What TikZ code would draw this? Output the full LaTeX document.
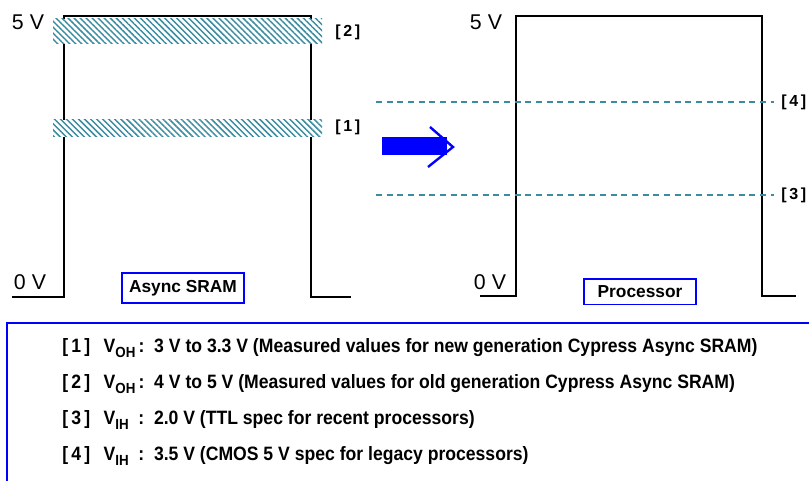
\documentclass[tikz,border=0pt]{standalone}
\usepackage{fontspec}
\setmainfont{Liberation Sans}
\newfontfamily\narrowfont[FakeStretch=0.91]{Liberation Sans}
\usetikzlibrary{patterns.meta}
\definecolor{hatchTeal}{HTML}{3A8CA0}
\definecolor{dashTeal}{HTML}{3B8C9E}
\definecolor{boxBlue}{HTML}{0000FF}
\newcommand\voltsub[1]{V\raisebox{-0.5ex}{\fontsize{11}{12}\selectfont #1}}

\begin{document}
\begin{tikzpicture}[x=0.75pt, y=-0.75pt,
    wave/.style={line width=1.6pt, line join=miter},
    band/.style={fill=white, postaction={pattern={Lines[angle=-45,distance=3.2pt,line width=1.1pt]}, pattern color=hatchTeal}},
    level/.style={dashTeal, line width=1.4pt, dash pattern=on 4.5pt off 3.5pt},
    volt/.style={font=\fontsize{16}{18}\selectfont, inner sep=0},
    tag/.style={font=\bfseries\fontsize{12}{14}\selectfont, inner sep=0, anchor=west},
    namebox/.style={draw=boxBlue, line width=1pt, font=\bfseries\fontsize{13}{15}\selectfont, inner sep=0},
    legend/.style={font=\narrowfont\bfseries\fontsize{14.5}{17}\selectfont, anchor=west, inner sep=0}]
  \useasboundingbox (0,0) rectangle (809,481);

  % Async SRAM output levels
  \draw[wave] (12,297) -- (64,297) -- (64,16) -- (311,16) -- (311,297) -- (351,297);
  \fill[band] (53,19) rectangle (322,44);
  \fill[band] (53,120) rectangle (322,137);
  \node[volt] (sramHigh) at (28,22) {5 V};
  \node[volt] (sramLow) at (30,282) {0 V};
  \node[tag] (tagTwo) at (335,32) {[\,2\,]};
  \node[tag] (tagOne) at (335,127) {[\,1\,]};
  \node[namebox, minimum width=91.5pt, minimum height=22.5pt] (sram) at (183,288) {Async SRAM};

  % arrow
  \fill[boxBlue] (382,137) rectangle (447,155);
  \draw[boxBlue, line width=1.8pt] (430,127) -- (453,147) -- (428,167);

  % Processor input levels
  \draw[wave] (480,296) -- (516,296) -- (516,16) -- (762,16) -- (762,296) -- (796,296);
  \draw[level] (376,102) -- (774,102);
  \draw[level] (376,195) -- (774,195);
  \node[volt] (procHigh) at (486,22) {5 V};
  \node[volt] (procLow) at (490,282) {0 V};
  \node[tag] (tagFour) at (781,102) {[\,4\,]};
  \node[tag] (tagThree) at (781,195) {[\,3\,]};
  \node[namebox, minimum width=84pt, minimum height=19pt] (proc) at (640,291.5) {Processor};

  % legend
  \draw[boxBlue, line width=1pt] (7,481) -- (7,323) -- (809,323);
  \node[legend] (noteOne) at (62,348) {[\,1\,]\hspace{0.7em}\voltsub{OH}\,:\enspace 3 V to 3.3 V (Measured values for new generation Cypress Async SRAM)};
  \node[legend] (noteTwo) at (62,384) {[\,2\,]\hspace{0.7em}\voltsub{OH}\,:\enspace 4 V to 5 V (Measured values for old generation Cypress Async SRAM)};
  \node[legend] (noteThree) at (62,420) {[\,3\,]\hspace{0.7em}\voltsub{IH}\enspace:\enspace 2.0 V (TTL spec for recent processors)};
  \node[legend] (noteFour) at (62,456) {[\,4\,]\hspace{0.7em}\voltsub{IH}\enspace:\enspace 3.5 V (CMOS 5 V spec for legacy processors)};
\end{tikzpicture}
\end{document}
